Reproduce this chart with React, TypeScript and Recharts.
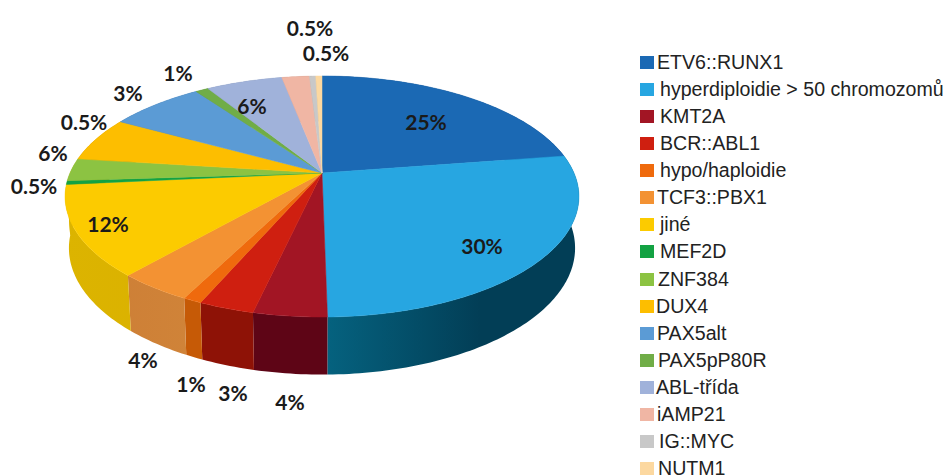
import { Legend, Pie, PieChart } from "recharts";

const categories = [
  "ETV6::RUNX1",
  "hyperdiploidie > 50 chromozomů",
  "KMT2A",
  "BCR::ABL1",
  "hypo/haploidie",
  "TCF3::PBX1",
  "jiné",
  "MEF2D",
  "ZNF384",
  "DUX4",
  "PAX5alt",
  "PAX5pP80R",
  "ABL-třída",
  "iAMP21",
  "IG::MYC",
  "NUTM1",
];
const shares = [25, 30, 4, 3, 1, 4, 12, 0.5, 3, 6, 7.2, 1, 6, 2.2, 0.5, 0.5];
// PAX5alt and iAMP21 carry no percentage of their own
const labelled = [true, true, true, true, true, true, true, true, true, true, false, true, true, false, true, true];
const strayLabel = "0.5%";

const topColors = [
  "#1b69b4", "#27a6e1", "#a21524", "#cf1f10", "#ef6a0d", "#f39233", "#fccb00", "#13a243",
  "#8cc342", "#fdbe00", "#5b9bd5", "#70ad47", "#a0b2da", "#f0b6a4", "#c8c8c8", "#fcd8a0",
];
// left and right shade of each slice's outer wall
const wallLeft = [
  "#0f3f6c", "#05627f", "#5e0516", "#8e1206", "#c65a06", "#cc7d35", "#dcb400", "#dcb400",
  "#dcb400", "#b08400", "#39638a", "#4a7530", "#6f7c99", "#a87f72", "#8a8a8a", "#b09670",
];
const wallRight = [
  "#0f3f6c", "#023e56", "#5e0516", "#8e1206", "#c65a06", "#d48a3c", "#d8ae00", "#dcb400",
  "#dcb400", "#b08400", "#39638a", "#4a7530", "#6f7c99", "#a87f72", "#8a8a8a", "#b09670",
];

// where each slice's percentage sits, and the one that belongs to no slice
const labelSpots = [
  [426, 121], [482, 245], [290, 401], [233, 392], [191, 383], [143, 359], [108, 223], [34, 185],
  [128, 92], [53, 152], [0, 0], [178, 72], [252, 105], [0, 0], [310, 27], [326, 52],
];
const straySpot = [84, 121];
const legendTextGaps = [3, 6, 6, 6, 6, 3, 6, 6, 4, 2, 3, 4, 2, 3, 5, 4];

const rows = categories.map((name, i) => ({ name, value: shares[i], fill: topColors[i], index: i }));

const CX = 322;
const CY = 173;
const RADIUS = 252;
const FLATTEN = 0.46;
const PERSPECTIVE = 0.195;
const LOWER_SQUEEZE = 4;

// Tilted disc: angle in degrees to a point on the upper rim, camera perspective included.
function rimPoint(deg: number, r: number) {
  const fromTop = ((90 - deg) * Math.PI) / 180;
  const seen = 90 - deg - LOWER_SQUEEZE * (1 - Math.cos(fromTop));
  const theta = ((90 - seen) * Math.PI) / 180;
  const w = 1 + PERSPECTIVE * Math.sin(theta);
  return { x: (r * Math.cos(theta)) / w, y: (-r * FLATTEN * Math.sin(theta)) / w };
}

function arcPoints(start: number, end: number, r: number) {
  const steps = Math.max(2, Math.ceil(Math.abs(end - start)));
  const pts = [];
  for (let i = 0; i <= steps; i++) {
    pts.push(rimPoint(start + ((end - start) * i) / steps, r));
  }
  return pts;
}

const toPath = (pts: { x: number; y: number }[]) =>
  pts.map((p, i) => `${i ? "L" : "M"}${p.x.toFixed(2)} ${p.y.toFixed(2)}`).join(" ");

function TopFace(props: any) {
  const { cx, cy, outerRadius, startAngle, endAngle, fill } = props;
  const rim = arcPoints(startAngle, endAngle, outerRadius).map((p) => ({ x: cx + p.x, y: cy + p.y }));
  return <path d={`M${cx} ${cy} ${toPath(rim).replace("M", "L")} Z`} fill={fill} stroke={fill} strokeWidth={0.5} />;
}

function WallFace(props: any) {
  const { cx, cy, outerRadius, startAngle, endAngle, payload } = props;
  const pts = arcPoints(startAngle, endAngle, outerRadius);
  const upper = pts.map((p) => ({ x: cx + p.x, y: cy + p.y }));
  const lower = pts.map((p) => ({ x: cx + 0.985 * p.x, y: cy + 1.05 * p.y + 50.4 })).reverse();
  return <path d={`${toPath(upper)} ${toPath(lower).replace("M", "L")} Z`} fill={`url(#wall-${payload.index})`} />;
}

function renderLabel(props: any) {
  const i = props.index;
  if (!labelled[i]) return null;
  return (
    <text
      x={labelSpots[i][0]}
      y={labelSpots[i][1]}
      textAnchor="middle"
      dominantBaseline="central"
      fontFamily="Lato"
      fontWeight={700}
      fontSize={21}
      fill="#1a1a1a"
    >
      {`${shares[i]}%`}
    </text>
  );
}

function LegendList({ payload }: any) {
  const entries = (payload ?? []).filter((entry: any) => entry.type !== "none");
  const unique = entries.filter((entry: any, i: number) => entries.findIndex((e: any) => e.value === entry.value) === i);
  return (
    <div style={{ position: "relative", fontFamily: "Liberation Sans", fontSize: 19.6, color: "#222" }}>
      {unique.map((entry: any, i: number) => (
        <div key={entry.value} style={{ position: "absolute", left: 0, top: i * 27.07, height: 14, whiteSpace: "nowrap" }}>
          <span style={{ position: "absolute", left: 0, top: 0, width: 14, height: 13, background: entry.color }} />
          <span style={{ position: "absolute", left: 14 + legendTextGaps[i], top: -1, lineHeight: "14px" }}>{entry.value}</span>
        </div>
      ))}
    </div>
  );
}

export default function App() {
  return (
    <div style={{ position: "absolute", left: 0, top: 0, width: 949, height: 476, background: "#fff" }}>
      <PieChart width={949} height={476} margin={{ top: 0, right: 0, bottom: 0, left: 0 }}>
        <defs>
          {categories.map((name, i) => (
            <linearGradient key={name} id={`wall-${i}`} gradientUnits="userSpaceOnUse" x1={i === 1 ? 326 : 60} x2={i === 1 ? 480 : 330} y1={0} y2={0}>
              <stop offset="0" stopColor={wallLeft[i]} />
              <stop offset="1" stopColor={wallRight[i]} />
            </linearGradient>
          ))}
        </defs>
        <Pie
          data={rows}
          dataKey="value"
          nameKey="name"
          cx={CX}
          cy={CY}
          outerRadius={RADIUS}
          startAngle={90}
          endAngle={-270}
          stroke="none"
          legendType="none"
          shape={WallFace}
          isAnimationActive={false}
        />
        <Pie
          data={rows}
          dataKey="value"
          nameKey="name"
          cx={CX}
          cy={CY}
          outerRadius={RADIUS}
          startAngle={90}
          endAngle={-270}
          stroke="none"
          shape={TopFace}
          label={renderLabel}
          labelLine={false}
          isAnimationActive={false}
        />
        <text
          x={straySpot[0]}
          y={straySpot[1]}
          textAnchor="middle"
          dominantBaseline="central"
          fontFamily="Lato"
          fontWeight={700}
          fontSize={21}
          fill="#1a1a1a"
        >
          {strayLabel}
        </text>
        <Legend
          layout="horizontal"
          align="center"
          verticalAlign="top"
          itemSorter={null}
          height={0}
          wrapperStyle={{ left: 640, top: 56, width: 309 }}
          content={LegendList}
        />
      </PieChart>
    </div>
  );
}
